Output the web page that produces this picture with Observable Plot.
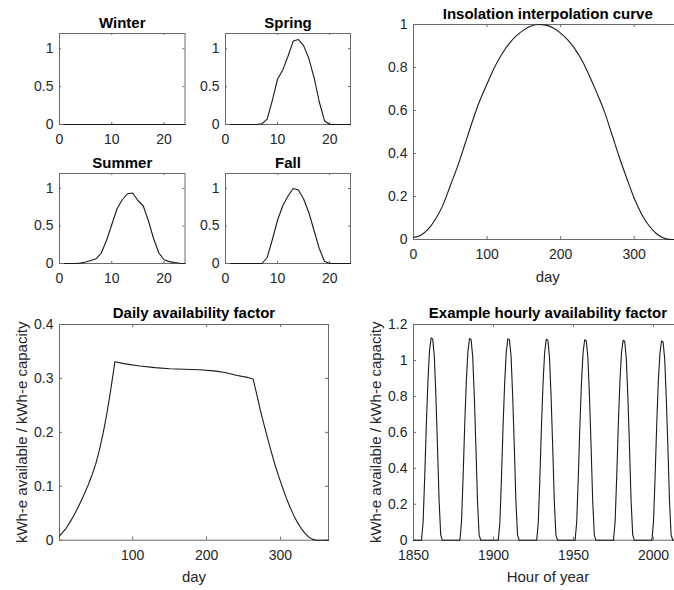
<!DOCTYPE html>
<html><head><meta charset="utf-8">
<script src="https://cdn.jsdelivr.net/npm/d3@7"></script>
<script src="https://cdn.jsdelivr.net/npm/@observablehq/plot@0.6"></script>
<style>
html,body{margin:0;padding:0;background:#fff;}
#chart{position:relative;width:674px;height:590px;overflow:hidden;background:#fff;}
#chart svg{position:absolute;}
</style></head><body><div id="chart"></div>
<script>
// ---- data ----
const seasonHours = [1,2,3,4,5,6,7,8,9,10,11,12,13,14,15,16,17,18,19,20,21,22,23,24];
const winterValues = [0,0,0,0,0,0,0,0,0,0,0,0,0,0,0,0,0,0,0,0,0,0,0,0];
const springValues = [0,0,0,0,0,0,0.01,0.07,0.32,0.6,0.72,0.9,1.1,1.12,1.04,0.87,0.62,0.3,0.05,0,0,0,0,0];
const summerValues = [0,0,0,0.005,0.02,0.04,0.062,0.14,0.31,0.52,0.73,0.85,0.93,0.94,0.84,0.77,0.57,0.33,0.14,0.05,0.025,0.012,0.004,0];
const fallValues   = [0,0,0,0,0,0,0,0.08,0.32,0.58,0.77,0.9,1.0,0.98,0.86,0.68,0.44,0.2,0.03,0,0,0,0,0];

const insolDays = [0,10,20,30,40,50,60,70,80,90,100,110,120,130,140,150,160,170,180,190,200,210,220,230,240,250,260,270,280,290,300,310,320,330,340,350,360,365];
const insolValues = [0.01,0.02,0.048,0.095,0.16,0.25,0.341,0.444,0.549,0.645,0.724,0.8,0.862,0.911,0.948,0.975,0.993,1.0,0.997,0.984,0.96,0.927,0.883,0.827,0.755,0.676,0.59,0.486,0.38,0.284,0.192,0.119,0.065,0.028,0.007,0,0,0];

const dailyDays = [1,5,10,15,20,25,30,35,40,45,50,55,60,65,70,76,90,110,130,150,170,190,210,225,240,255,263,268,273,278,283,288,293,298,303,308,313,318,323,328,333,338,343,348,355,365];
const dailyValues = [0.008,0.014,0.022,0.033,0.045,0.058,0.072,0.087,0.103,0.121,0.141,0.167,0.198,0.234,0.276,0.331,0.327,0.323,0.32,0.318,0.317,0.316,0.314,0.311,0.306,0.302,0.299,0.27,0.24,0.213,0.187,0.162,0.138,0.117,0.097,0.078,0.061,0.046,0.033,0.022,0.013,0.006,0.002,0,0,0];

const hourlyStart = 1850;
const hourlyValues = [
  0,0,0,0,0,0, 0.1,0.35,0.64,0.88,1.055,1.125,1.12,1.025,0.8,0.52,0.22,0.03, 0,0,0,0,
  0,0,0,0,0,0,0,0, 0.1,0.35,0.64,0.88,1.05,1.122,1.117,1.022,0.8,0.52,0.22,0.03, 0,0,0,0,
  0,0,0,0,0,0,0,0, 0.1,0.35,0.64,0.88,1.05,1.12,1.115,1.02,0.8,0.52,0.22,0.03, 0,0,0,0,
  0,0,0,0,0,0,0,0, 0.1,0.35,0.64,0.88,1.048,1.118,1.113,1.018,0.798,0.52,0.22,0.03, 0,0,0,0,
  0,0,0,0,0,0,0,0, 0.1,0.35,0.64,0.88,1.045,1.115,1.11,1.015,0.795,0.52,0.22,0.03, 0,0,0,0,
  0,0,0,0,0,0,0,0, 0.1,0.35,0.64,0.88,1.042,1.112,1.107,1.012,0.793,0.52,0.22,0.03, 0,0,0,0,
  0,0,0,0,0,0,0,0, 0.1,0.35,0.64,0.88,1.038,1.108,1.103,1.008,0.79,0.52,0.22,0.03, 0,0,0,0,
  0,0,0
];

// ---- tick labels ----
const seasonXTicks = [0,10,20];
const seasonYTicks = [0,0.5,1];
const insolXTicks = [0,100,200,300];
const insolYTicks = [0,0.2,0.4,0.6,0.8,1];
const dailyXTicks = [100,200,300];
const dailyYTicks = [0,0.1,0.2,0.3,0.4];
const hourlyXTicks = [1850,1900,1950,2000];
const hourlyYTicks = [0,0.2,0.4,0.6,0.8,1,1.2];

const FONT = '"Liberation Sans", Arial, Helvetica, sans-serif';
const AXC = "#6b6b6b";
const fmt = d => String(d);
const chart = document.getElementById("chart");

function panel(o) {
  const mL = 70, mR = 12, mT = 32, mB = 50;
  const w = o.x1 - o.x0, h = o.y1 - o.y0;
  const tl = o.tickLen;
  const marks = [
    Plot.tickX(o.xTicks, {x: d => d, insetTop: h - tl, stroke: AXC}),
    Plot.tickX(o.xTicks, {x: d => d, insetBottom: h - tl, stroke: AXC}),
    Plot.tickY(o.yTicks, {y: d => d, insetRight: w - tl, stroke: AXC}),
    Plot.tickY(o.yTicks, {y: d => d, insetLeft: w - tl, stroke: AXC}),
    Plot.frame({stroke: AXC, strokeWidth: 1}),
    Plot.axisX(o.xTicks, {anchor: "bottom", tickSize: 0, tickPadding: 10, tickFormat: fmt, label: null}),
    Plot.axisY(o.yTicks, {anchor: "left", tickSize: 0, tickPadding: 6, tickFormat: fmt, label: null}),
    Plot.line(o.values, {x: (d, i) => o.xs(i), y: d => d, stroke: "#1a1a1a", strokeWidth: 1.1, curve: o.curve || "linear"}),
    Plot.text([o.title], {frameAnchor: "top", text: d => d, dy: -6, lineAnchor: "bottom", textAnchor: "middle", fontWeight: "bold", fontSize: 15, fill: "#000"})
  ];
  if (o.xLabel) marks.push(Plot.text([o.xLabel], {frameAnchor: "bottom", text: d => d, dy: 42, lineAnchor: "bottom", textAnchor: "middle", fontSize: 15, fill: "#262626"}));
  if (o.yLabel) marks.push(Plot.text([o.yLabel], {frameAnchor: "left", text: d => d, dx: -33, rotate: -90, lineAnchor: "bottom", textAnchor: "middle", fontSize: 15, fill: "#262626"}));
  const svg = Plot.plot({
    width: w + mL + mR, height: h + mT + mB,
    marginLeft: mL, marginRight: mR, marginTop: mT, marginBottom: mB,
    style: {fontFamily: FONT, fontSize: "14px", color: "#262626", background: "transparent", overflow: "visible", maxWidth: "none"},
    x: {domain: o.xDomain},
    y: {domain: o.yDomain},
    marks
  });
  svg.style.position = "absolute";
  svg.style.left = (o.x0 - mL) + "px";
  svg.style.top = (o.y0 - mT) + "px";
  chart.appendChild(svg);
}

const seasonCfg = {xDomain: [0, 24], yDomain: [0, 1.2], xTicks: seasonXTicks, yTicks: seasonYTicks, tickLen: 2, xs: i => seasonHours[i]};
panel({...seasonCfg, title: "Winter", values: winterValues, x0: 58.5, x1: 184, y0: 33, y1: 124});
panel({...seasonCfg, title: "Spring", values: springValues, x0: 225, x1: 350, y0: 33, y1: 124});
panel({...seasonCfg, title: "Summer", values: summerValues, x0: 58.5, x1: 184, y0: 173, y1: 263});
panel({...seasonCfg, title: "Fall", values: fallValues, x0: 225, x1: 350, y0: 173, y1: 263});

panel({title: "Insolation interpolation curve", xLabel: "day", values: insolValues, xs: i => insolDays[i],
  xDomain: [0, 365], yDomain: [0, 1], xTicks: insolXTicks, yTicks: insolYTicks, tickLen: 3, curve: "monotone-x",
  x0: 413.3, x1: 681.8, y0: 24.3, y1: 239.3});

panel({title: "Daily availability factor", xLabel: "day", yLabel: "kWh-e available / kWh-e capacity",
  values: dailyValues, xs: i => dailyDays[i],
  xDomain: [1, 365], yDomain: [0, 0.4], xTicks: dailyXTicks, yTicks: dailyYTicks, tickLen: 3,
  x0: 59, x1: 328, y0: 324.3, y1: 540});

panel({title: "Example hourly availability factor", xLabel: "Hour of year", yLabel: "kWh-e available / kWh-e capacity",
  values: hourlyValues, xs: i => hourlyStart + i,
  xDomain: [1850, 2018], yDomain: [0, 1.2], xTicks: hourlyXTicks, yTicks: hourlyYTicks, tickLen: 3,
  x0: 413.3, x1: 682.1, y0: 324.3, y1: 540});
</script>
</body></html>
